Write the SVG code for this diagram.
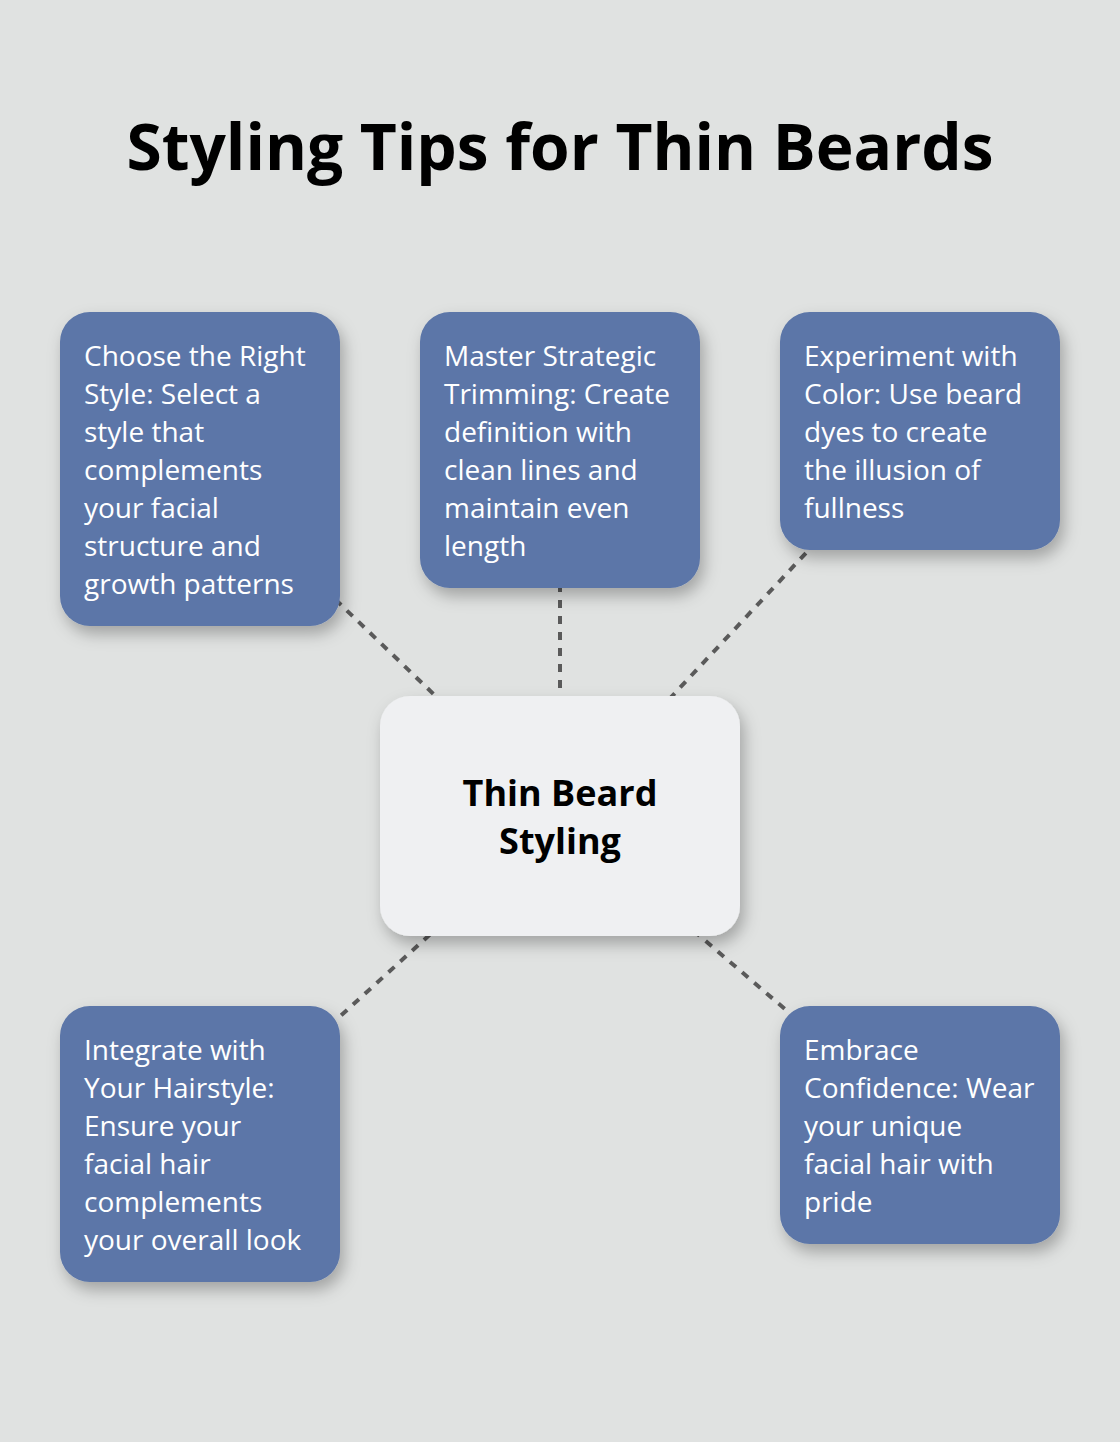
<svg xmlns="http://www.w3.org/2000/svg" width="1120" height="1442" viewBox="0 0 1120 1442">
<defs>
<filter id="sh" x="-20%" y="-20%" width="140%" height="150%">
<feDropShadow dx="4" dy="8" stdDeviation="8" flood-color="#000" flood-opacity="0.28"/>
</filter>
<style>
.box{fill:#5b76a8;filter:url(#sh)}
.center{fill:#eff0f2;filter:url(#sh)}
.t{font-family:"Open Sans","Noto Sans",sans-serif;font-size:28px;fill:#ffffff}
.ct{font-family:"Open Sans","Noto Sans",sans-serif;font-size:36px;font-weight:bold;fill:#000;text-anchor:middle}
.title{font-family:"Open Sans","Noto Sans",sans-serif;font-size:64px;font-weight:bold;fill:#000;text-anchor:middle}
.c{stroke:#5a5a5a;stroke-width:4;stroke-dasharray:8 8;fill:none}
</style>
</defs>
<rect width="1120" height="1442" fill="#e0e2e1"/>
<text class="title" x="560" y="170">Styling Tips for Thin Beards</text>
<g id="connectors">
<line class="c" x1="560" y1="816" x2="200" y2="469"/>
<line class="c" x1="560" y1="816" x2="560" y2="450"/>
<line class="c" x1="560" y1="816" x2="920" y2="431"/>
<line class="c" x1="560" y1="816" x2="200" y2="1144"/>
<line class="c" x1="560" y1="816" x2="920" y2="1125"/>
</g>
<g id="node-right-style">
<rect class="box" x="60" y="312" width="280" height="314" rx="30"/>
<text class="t" x="84" y="366">Choose the Right</text>
<text class="t" x="84" y="404">Style: Select a</text>
<text class="t" x="84" y="442">style that</text>
<text class="t" x="84" y="480">complements</text>
<text class="t" x="84" y="518">your facial</text>
<text class="t" x="84" y="556">structure and</text>
<text class="t" x="84" y="594">growth patterns</text>
</g>
<g id="node-trimming">
<rect class="box" x="420" y="312" width="280" height="276" rx="30"/>
<text class="t" x="444" y="366">Master Strategic</text>
<text class="t" x="444" y="404">Trimming: Create</text>
<text class="t" x="444" y="442">definition with</text>
<text class="t" x="444" y="480">clean lines and</text>
<text class="t" x="444" y="518">maintain even</text>
<text class="t" x="444" y="556">length</text>
</g>
<g id="node-color">
<rect class="box" x="780" y="312" width="280" height="238" rx="30"/>
<text class="t" x="804" y="366">Experiment with</text>
<text class="t" x="804" y="404">Color: Use beard</text>
<text class="t" x="804" y="442">dyes to create</text>
<text class="t" x="804" y="480">the illusion of</text>
<text class="t" x="804" y="518">fullness</text>
</g>
<g id="node-center">
<rect class="center" x="380" y="696" width="360" height="240" rx="30"/>
<text class="ct" x="560" y="806">Thin Beard</text>
<text class="ct" x="560" y="854">Styling</text>
</g>
<g id="node-hairstyle">
<rect class="box" x="60" y="1006" width="280" height="276" rx="30"/>
<text class="t" x="84" y="1060">Integrate with</text>
<text class="t" x="84" y="1098">Your Hairstyle:</text>
<text class="t" x="84" y="1136">Ensure your</text>
<text class="t" x="84" y="1174">facial hair</text>
<text class="t" x="84" y="1212">complements</text>
<text class="t" x="84" y="1250">your overall look</text>
</g>
<g id="node-confidence">
<rect class="box" x="780" y="1006" width="280" height="238" rx="30"/>
<text class="t" x="804" y="1060">Embrace</text>
<text class="t" x="804" y="1098">Confidence: Wear</text>
<text class="t" x="804" y="1136">your unique</text>
<text class="t" x="804" y="1174">facial hair with</text>
<text class="t" x="804" y="1212">pride</text>
</g>
</svg>
